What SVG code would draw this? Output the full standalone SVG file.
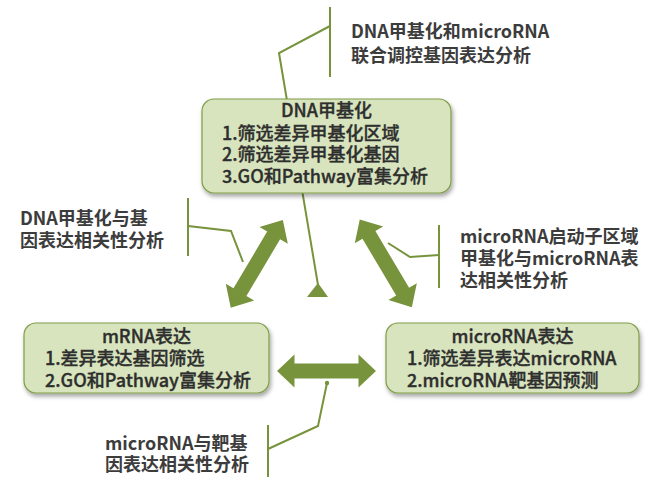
<svg xmlns="http://www.w3.org/2000/svg" width="672" height="492" viewBox="0 0 672 492">
<defs>
<style>
.box{fill:#d7e4bd;stroke:#809d47;stroke-width:1.2;}
.bt{font-family:"Noto Sans CJK SC","Noto Sans",sans-serif;font-size:18px;font-weight:500;fill:#2e2e2e;stroke:#2e2e2e;stroke-width:0.35;}
.ct{font-family:"Noto Sans CJK SC","Noto Sans",sans-serif;font-size:18px;font-weight:bold;fill:#3c3c3c;}
.ln{fill:none;stroke:#77933c;stroke-width:2;}
.arr{fill:#77933c;}
</style>
<filter id="sh" x="-10%" y="-10%" width="120%" height="130%">
<feDropShadow dx="1.5" dy="3" stdDeviation="2" flood-color="#000" flood-opacity="0.35"/>
</filter>
<path id="dbl" d="M-51,0 L-33,-16.5 L-33,-7.5 L33,-7.5 L33,-16.5 L51,0 L33,16.5 L33,7.5 L-33,7.5 L-33,16.5 Z"/>
</defs>

<g id="connectors">
<polyline class="ln" points="330,7 330,77"/>
<polyline class="ln" points="330,26 279,53 318,285"/>
<polygon class="arr" points="318,283 307,297 328,297"/>
<use href="#dbl" class="arr" transform="translate(256.8,263.8) rotate(-59.3)"/>
<use href="#dbl" class="arr" transform="translate(385.8,263.3) rotate(59.3)"/>
<use href="#dbl" class="arr" transform="translate(326.5,371) scale(0.97,1)"/>
<polyline class="ln" points="188,198 188,256"/>
<polyline class="ln" points="188,226 231,231 243,262"/>
<polyline class="ln" points="439,225 439,288"/>
<polyline class="ln" points="439,255 410,257 388,243"/>
<polyline class="ln" points="268,425 268,477"/>
<polyline class="ln" points="268,449 318,426 327,383"/>
<circle cx="327" cy="383" r="2.2" fill="#77933c"/>
</g>

<g id="node-dna">
<rect class="box" x="202" y="99" width="249" height="94" rx="12" filter="url(#sh)"/>
<text class="bt" x="326.5" y="117" text-anchor="middle">DNA甲基化</text>
<text class="bt" x="222" y="140">1.筛选差异甲基化区域</text>
<text class="bt" x="222" y="161">2.筛选差异甲基化基因</text>
<text class="bt" x="222" y="183">3.GO和Pathway富集分析</text>
</g>

<g id="node-mrna">
<rect class="box" x="24" y="323" width="245" height="70" rx="12" filter="url(#sh)"/>
<text class="bt" x="146.5" y="343" text-anchor="middle">mRNA表达</text>
<text class="bt" x="45" y="365">1.差异表达基因筛选</text>
<text class="bt" x="45" y="387">2.GO和Pathway富集分析</text>
</g>

<g id="node-microrna">
<rect class="box" x="386" y="323" width="253" height="70" rx="12" filter="url(#sh)"/>
<text class="bt" x="512.5" y="343" text-anchor="middle">microRNA表达</text>
<text class="bt" x="407" y="365">1.筛选差异表达microRNA</text>
<text class="bt" x="407" y="387">2.microRNA靶基因预测</text>
</g>

<g id="label-top">
<text class="ct" x="351" y="38">DNA甲基化和microRNA</text>
<text class="ct" x="351" y="62">联合调控基因表达分析</text>
</g>

<g id="label-left">
<text class="ct" x="20" y="225">DNA甲基化与基</text>
<text class="ct" x="20" y="247">因表达相关性分析</text>
</g>

<g id="label-right">
<text class="ct" x="460" y="243">microRNA启动子区域</text>
<text class="ct" x="460" y="265">甲基化与microRNA表</text>
<text class="ct" x="460" y="287">达相关性分析</text>
</g>

<g id="label-bottom">
<text class="ct" x="105" y="450">microRNA与靶基</text>
<text class="ct" x="105" y="471">因表达相关性分析</text>
</g>
</svg>
